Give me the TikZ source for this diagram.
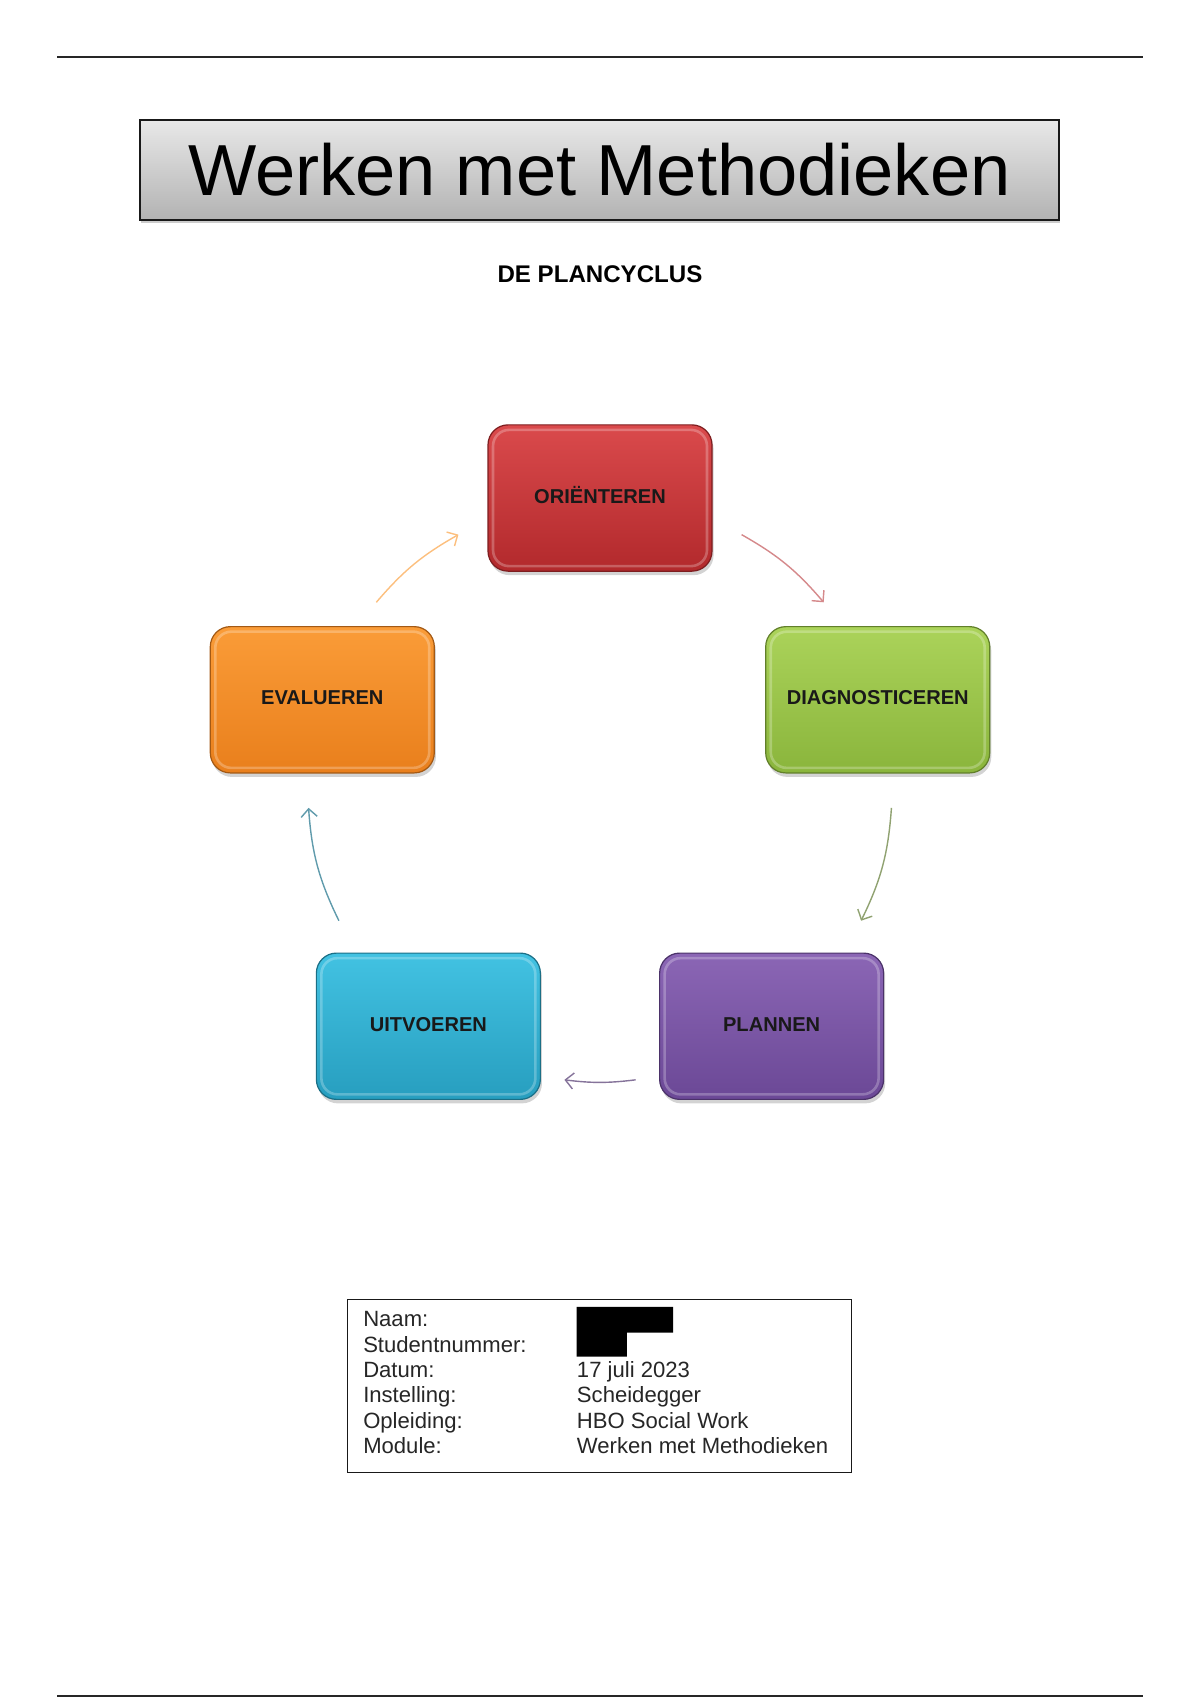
\documentclass[tikz,border=0pt]{standalone}
\usepackage{fontspec}
\setmainfont{Liberation Sans}
\usepackage{tikz}
\usetikzlibrary{positioning}
\usetikzlibrary{calc,shadows,arrows.meta}

% colours of the cycle
\definecolor{oriTop}{HTML}{DA4A4C}
\definecolor{oriBot}{HTML}{B2292C}
\definecolor{diaTop}{HTML}{ABD35A}
\definecolor{diaBot}{HTML}{8AB53C}
\definecolor{plaTop}{HTML}{8B66B5}
\definecolor{plaBot}{HTML}{6B4896}
\definecolor{uitTop}{HTML}{42C2E2}
\definecolor{uitBot}{HTML}{279EBF}
\definecolor{evaTop}{HTML}{FA9C38}
\definecolor{evaBot}{HTML}{E97F1C}

\tikzset{
	stage/.style={rounded corners=10pt, minimum width=3.92cm, minimum height=2.56cm,
		text height=7.2pt, text depth=2.2pt,
		font=\fontsize{10}{12}\selectfont\bfseries, text=black!90, line width=0.6pt,
		drop shadow={opacity=0.35, shadow xshift=0.8pt, shadow yshift=-2pt},
		path picture={\draw[white, opacity=0.25, line width=1.3pt, rounded corners=8pt]
			([shift={(2.5pt,-2.5pt)}]path picture bounding box.north west) rectangle
			([shift={(-2.5pt,2.5pt)}]path picture bounding box.south east);}},
	cyclearrow/.style={line width=0.7pt, -{Straight Barb[length=4pt,width=8pt]}},
	infotext/.style={anchor=base west, inner sep=0pt, font=\fontsize{11}{13}\selectfont, text=black!85},
}

\begin{document}
\begin{tikzpicture}
	
	% ------------------------------------------------
	% Page size
	\useasboundingbox (0,0) rectangle (21cm,-29.75cm);
	
	% ----------------
	% Page rules
	\coordinate (RuleTopL) at (1.00cm,-1.00cm);
	\coordinate (RuleTopR) at (20.00cm,-1.00cm);
	\coordinate (RuleBotL) at (1.00cm,-29.68cm);
	\coordinate (RuleBotR) at (20.00cm,-29.68cm);
	\draw[line width=1.2pt, black!85] (RuleTopL) -- (RuleTopR);
	\draw[line width=1.2pt, black!85] (RuleBotL) -- (RuleBotR);
	
	% ----------------
	% Title
	\node[draw=black!90, line width=1.1pt, top color=black!9, bottom color=black!30,
		minimum width=16.08cm, minimum height=1.75cm,
		drop shadow={opacity=0.4, shadow xshift=0.6pt, shadow yshift=-1.5pt},
		font=\fontsize{36}{40}\selectfont] (Title) at (10.49cm,-2.975cm) {Werken met Methodieken};
	
	\node[font=\fontsize{12}{14}\selectfont\bfseries] (Subtitle) at (10.50cm,-4.80cm) {DE PLANCYCLUS};
	
	% ------------------------------------------------
	% Relevant coordinates
	\coordinate (Cyc) at (10.50cm,-13.825cm);
	
	\path (Cyc) +(90:5.11cm)   coordinate (PosOri);
	\path (Cyc) +(18:5.11cm)   coordinate (PosDia);
	\path (Cyc) +(-54:5.11cm)  coordinate (PosPla);
	\path (Cyc) +(-126:5.11cm) coordinate (PosUit);
	\path (Cyc) +(162:5.11cm)  coordinate (PosEva);
	
	% ----------------
	% Stages
	\node[stage, draw=oriBot!70!black, top color=oriTop, bottom color=oriBot] (Ori) at (PosOri) {ORIËNTEREN};
	\node[stage, draw=diaBot!70!black, top color=diaTop, bottom color=diaBot] (Dia) at (PosDia) {DIAGNOSTICEREN};
	\node[stage, draw=plaBot!70!black, top color=plaTop, bottom color=plaBot] (Pla) at (PosPla) {PLANNEN};
	\node[stage, draw=uitBot!70!black, top color=uitTop, bottom color=uitBot] (Uit) at (PosUit) {UITVOEREN};
	\node[stage, draw=evaBot!70!black, top color=evaTop, bottom color=evaBot] (Eva) at (PosEva) {EVALUEREN};
	
	% ----------------
	% Arrow ends on the circle
	\path (Cyc) +(61:5.11cm)    coordinate (OriOut);
	\path (Cyc) +(40:5.11cm)    coordinate (DiaIn);
	\path (Cyc) +(-3.5:5.11cm)  coordinate (DiaOut);
	\path (Cyc) +(-26.6:5.11cm) coordinate (PlaIn);
	\path (Cyc) +(-83:5.11cm)   coordinate (PlaOut);
	\path (Cyc) +(-97:5.11cm)   coordinate (UitIn);
	\path (Cyc) +(206.6:5.11cm) coordinate (UitOut);
	\path (Cyc) +(183.5:5.11cm) coordinate (EvaIn);
	\path (Cyc) +(140:5.11cm)   coordinate (EvaOut);
	\path (Cyc) +(119:5.11cm)   coordinate (OriIn);
	
	\draw[cyclearrow, color=oriBot!55!white]      (OriOut) to[bend left=10] (DiaIn);
	\draw[cyclearrow, color=diaBot!45!gray!90]    (DiaOut) to[bend left=11] (PlaIn);
	\draw[cyclearrow, color=plaTop!50!gray]       (PlaOut) to[bend left=7]  (UitIn);
	\draw[cyclearrow, color=uitBot!55!gray!90]    (UitOut) to[bend left=11] (EvaIn);
	\draw[cyclearrow, color=evaTop!65!white]      (EvaOut) to[bend left=10] (OriIn);
	
	% ------------------------------------------------
	% Info table
	\node[draw=black!90, line width=0.8pt, minimum width=8.82cm, minimum height=3.03cm] (Info) at (10.49cm,-24.255cm) {};
	
	\node[infotext] (LblNaam)  at (6.35cm,-23.22cm) {Naam:};
	\node[infotext] (LblNr)    at (6.35cm,-23.66cm) {Studentnummer:};
	\node[infotext] (LblDatum) at (6.35cm,-24.11cm) {Datum:};
	\node[infotext] (LblInst)  at (6.35cm,-24.55cm) {Instelling:};
	\node[infotext] (LblOpl)   at (6.35cm,-24.99cm) {Opleiding:};
	\node[infotext] (LblMod)   at (6.35cm,-25.43cm) {Module:};
	
	\node[infotext] (ValDatum) at (10.09cm,-24.11cm) {17 juli 2023};
	\node[infotext] (ValInst)  at (10.09cm,-24.55cm) {Scheidegger};
	\node[infotext] (ValOpl)   at (10.09cm,-24.99cm) {HBO Social Work};
	\node[infotext] (ValMod)   at (10.09cm,-25.43cm) {Werken met Methodieken};
	
	% blacked out name and number
	\fill[black] (10.09cm,-22.87cm) -- (11.78cm,-22.87cm) -- (11.78cm,-23.32cm) -- (10.97cm,-23.32cm)
		-- (10.97cm,-23.74cm) -- (10.09cm,-23.74cm) -- cycle;
	
\end{tikzpicture}
\end{document}
